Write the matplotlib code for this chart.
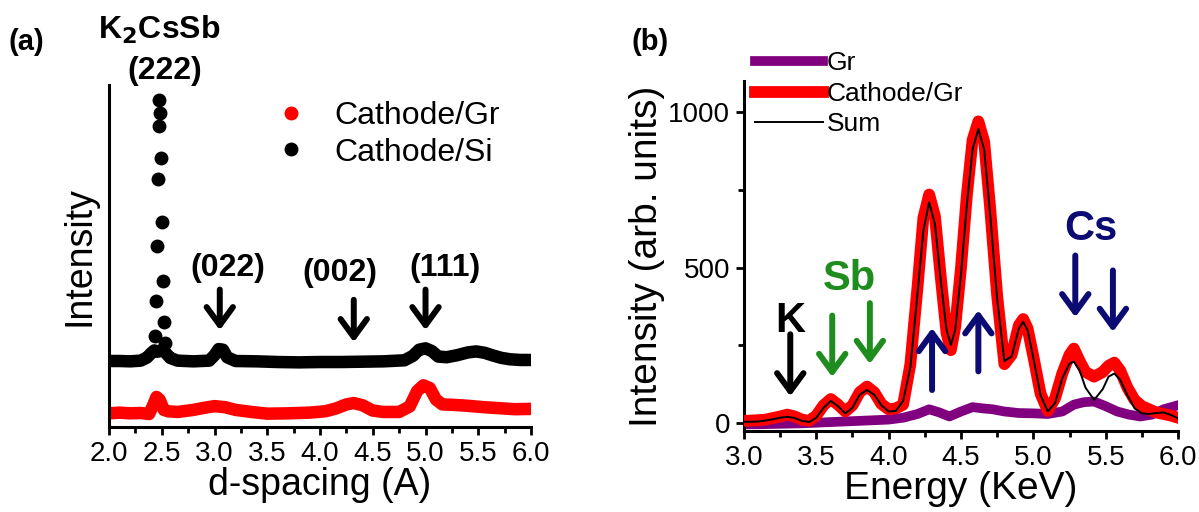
import numpy as np
import matplotlib
matplotlib.use("Agg")
import matplotlib.pyplot as plt
from matplotlib.ticker import MultipleLocator, FormatStrFormatter

plt.rcParams['font.family'] = ['Liberation Sans', 'DejaVu Sans']

# ---- panel (a): XRD, d-spacing vs intensity ----
d_si = [2.00, 2.10, 2.20, 2.30, 2.36, 2.40, 2.43, 2.46, 2.50, 2.54, 2.58, 2.65,
        2.80, 2.95, 3.00, 3.04, 3.08, 3.12, 3.20, 3.40, 3.60, 3.80, 4.00, 4.20,
        4.40, 4.60, 4.80, 4.88, 4.94, 5.00, 5.06, 5.12, 5.20, 5.30, 5.40, 5.48,
        5.56, 5.64, 5.72, 5.80, 5.90, 6.00]
I_si = [19.3, 19.3, 19.2, 19.4, 20.3, 21.6, 22.4, 22.0, 22.5, 21.6, 20.2, 19.4,
        19.2, 19.4, 21.0, 22.8, 22.6, 20.4, 19.3, 19.2, 19.0, 18.9, 19.0, 19.0,
        19.1, 19.2, 19.5, 20.8, 22.6, 23.0, 22.2, 20.6, 20.4, 21.0, 21.8, 22.1,
        21.7, 20.9, 20.2, 19.8, 19.6, 19.6]
# isolated points of the (222) peak
d_si_peak = [2.436, 2.445, 2.455, 2.464, 2.471, 2.477, 2.482, 2.493, 2.502, 2.509, 2.518, 2.531]
I_si_peak = [26.6, 36.8, 53.0, 72.5, 88.1, 95.6, 91.7, 78.6, 60.0, 42.8, 30.8, 24.6]

d_gr = [2.00, 2.10, 2.20, 2.30, 2.38, 2.42, 2.45, 2.48, 2.52, 2.56, 2.65, 2.80,
        2.90, 3.00, 3.10, 3.20, 3.35, 3.50, 3.70, 3.90, 4.05, 4.15, 4.25, 4.32,
        4.40, 4.50, 4.60, 4.75, 4.85, 4.92, 4.98, 5.04, 5.10, 5.16, 5.25, 5.40,
        5.55, 5.70, 5.85, 6.00]
I_gr = [4.0, 4.2, 4.0, 4.1, 3.8, 6.5, 8.8, 8.0, 5.0, 4.6, 4.4, 5.0,
        5.6, 6.1, 5.8, 5.0, 4.4, 3.9, 4.0, 4.2, 4.6, 5.4, 6.6, 7.0,
        6.4, 4.8, 4.4, 4.4, 6.0, 10.5, 12.2, 11.4, 8.0, 6.6, 6.5, 6.2,
        5.8, 5.5, 5.2, 5.3]

peak_labels = ["(022)", "(002)", "(111)"]
peak_pos = [3.05, 4.32, 5.00]

# ---- panel (b): EDS spectrum ----
energy = [3.00, 3.05, 3.10, 3.15, 3.20, 3.25, 3.30, 3.35, 3.40, 3.45, 3.50, 3.55,
          3.60, 3.65, 3.70, 3.75, 3.80, 3.85, 3.90, 3.95, 4.00, 4.05, 4.10, 4.15,
          4.20, 4.24, 4.28, 4.32, 4.36, 4.40, 4.43, 4.46, 4.50, 4.54, 4.58, 4.62,
          4.66, 4.70, 4.75, 4.80, 4.85, 4.90, 4.93, 4.96, 5.00, 5.05, 5.10, 5.15,
          5.20, 5.25, 5.28, 5.32, 5.36, 5.42, 5.48, 5.52, 5.56, 5.60, 5.65, 5.70,
          5.75, 5.80, 5.85, 5.90, 5.95, 6.00]
cathode = [8, 9, 10, 12, 17, 22, 28, 22, 12, 8, 25, 58,
           78, 60, 38, 58, 100, 118, 100, 62, 45, 48, 60, 190,
           440, 660, 735, 665, 470, 290, 235, 310, 500, 730, 910, 970,
           905, 700, 410, 190, 220, 315, 335, 305, 215, 95, 40, 80,
           160, 220, 240, 200, 165, 150, 165, 185, 195, 170, 115, 75,
           55, 45, 35, 30, 25, 18]
fit_sum = [5, 5, 6, 9, 13, 18, 21, 17, 8, 4, 18, 50,
           72, 55, 32, 50, 92, 107, 92, 58, 38, 40, 72, 180,
           420, 620, 710, 640, 460, 300, 252, 300, 480, 700, 880, 945,
           880, 680, 400, 200, 215, 305, 326, 300, 210, 90, 38, 65,
           145, 192, 198, 170, 115, 75, 110, 150, 160, 140, 90, 48,
           32, 30, 33, 35, 27, 16]
energy_gr = [3.00, 3.10, 3.20, 3.30, 3.40, 3.50, 3.60, 3.70, 3.80, 3.90, 4.00, 4.10,
             4.20, 4.28, 4.35, 4.42, 4.50, 4.58, 4.65, 4.72, 4.80, 4.90, 5.00, 5.10,
             5.20, 5.28, 5.35, 5.42, 5.50, 5.58, 5.66, 5.74, 5.82, 5.90, 6.00]
graphene = [-3, -3, -2, -1, 0, 2, 4, 6, 8, 10, 12, 18,
            30, 45, 35, 22, 38, 52, 48, 45, 38, 33, 32, 30,
            38, 60, 68, 70, 55, 38, 28, 22, 28, 45, 58]

navy = '#0b0b73'
green = '#1e8c1e'
arr = dict(arrowstyle='->,head_length=1.3,head_width=0.95', lw=4.3)

fig = plt.figure(figsize=(11.99, 5.12), dpi=100)

# ================= (a) =================
ax = fig.add_axes([0.0909, 0.166, 0.352, 0.668])
ax.plot(d_gr, I_gr, '-', color='red', lw=9, solid_capstyle='butt', zorder=2)
ax.plot(d_si, I_si, '-', color='black', lw=9, solid_capstyle='butt', zorder=2)
ax.plot(d_si_peak, I_si_peak, 'o', color='black', ms=9, clip_on=False, zorder=3)

h_gr, = ax.plot([], [], 'o', color='red', ms=9, label='Cathode/Gr')
h_si, = ax.plot([], [], 'o', color='black', ms=9, label='Cathode/Si')
ax.legend(handles=[h_gr, h_si], loc='upper left', bbox_to_anchor=(0.355, 0.99),
          frameon=False, fontsize=23, handlelength=1.2, handletextpad=0.75,
          labelspacing=0.2, borderaxespad=0)

ax.set_xlim(2.0, 6.0)
ax.set_ylim(0, 100)
ax.spines['top'].set_visible(False)
ax.spines['right'].set_visible(False)
for s in ['left', 'bottom']:
    ax.spines[s].set_linewidth(2.2)
ax.set_yticks([])
ax.xaxis.set_major_locator(MultipleLocator(0.5))
ax.xaxis.set_minor_locator(MultipleLocator(0.25))
ax.xaxis.set_major_formatter(FormatStrFormatter('%.1f'))
ax.tick_params(axis='x', which='major', length=6, width=2, labelsize=20, pad=4)
ax.tick_params(axis='x', which='minor', length=4, width=2)
ax.set_xlabel('d-spacing (A)', fontsize=27, labelpad=0)
ax.set_ylabel('Intensity', fontsize=27, labelpad=8)

ax.text(2.48, 116, 'K$_\\mathbf{2}$CsSb', fontsize=23, fontweight='bold',
        ha='center', va='center', clip_on=False)
ax.text(2.53, 104, '(222)', fontsize=23, fontweight='bold',
        ha='center', va='center', clip_on=False)
label_x = [3.13, 4.19, 5.18]
label_y = [46.5, 45.0, 46.5]
arrow_top = [41, 38, 41]
arrow_tip = [27.5, 24, 27.5]
for lab, x, lx, ly, t0, t1 in zip(peak_labels, peak_pos, label_x, label_y, arrow_top, arrow_tip):
    ax.text(lx, ly, lab, fontsize=23, fontweight='bold', ha='center', va='center')
    ax.annotate('', xy=(x, t1), xytext=(x, t0), arrowprops=dict(arr, color='black'))
fig.text(0.022, 0.918, '(a)', fontsize=21, fontweight='bold', ha='center', va='center')

# ================= (b) =================
bx = fig.add_axes([0.6205, 0.158, 0.362, 0.684])
bx.plot(energy_gr, graphene, '-', color='#800080', lw=7, label='Gr', zorder=2)
bx.plot(energy, cathode, '-', color='red', lw=8.5, label='Cathode/Gr', zorder=3)
bx.plot(energy, fit_sum, '-', color='black', lw=1.4, label='Sum', zorder=4)
bx.legend(loc='upper left', bbox_to_anchor=(0.0, 1.115), frameon=False, fontsize=19,
          handlelength=2.6, handletextpad=0.15, labelspacing=0.25, borderaxespad=0)

bx.set_xlim(3.0, 6.0)
bx.set_ylim(-25, 1100)
bx.spines['top'].set_visible(False)
bx.spines['right'].set_visible(False)
for s in ['left', 'bottom']:
    bx.spines[s].set_linewidth(2.2)
bx.xaxis.set_major_locator(MultipleLocator(0.5))
bx.xaxis.set_minor_locator(MultipleLocator(0.25))
bx.xaxis.set_major_formatter(FormatStrFormatter('%.1f'))
bx.yaxis.set_major_locator(MultipleLocator(500))
bx.yaxis.set_minor_locator(MultipleLocator(250))
bx.tick_params(which='major', length=6, width=2, labelsize=20, pad=4)
bx.tick_params(which='minor', length=4, width=2)
bx.set_xlabel('Energy (KeV)', fontsize=28, labelpad=0)
bx.set_ylabel('Intensity (arb. units)', fontsize=28, labelpad=2)

bx.text(3.32, 330, 'K', fontsize=30, fontweight='bold', color='black', ha='center', va='center')
bx.annotate('', xy=(3.32, 78), xytext=(3.32, 295), arrowprops=dict(arr, color='black'))
bx.text(3.73, 465, 'Sb', fontsize=30, fontweight='bold', color=green, ha='center', va='center')
bx.annotate('', xy=(3.61, 140), xytext=(3.61, 355), arrowprops=dict(arr, color=green))
bx.annotate('', xy=(3.87, 182), xytext=(3.87, 395), arrowprops=dict(arr, color=green))
bx.annotate('', xy=(4.30, 315), xytext=(4.30, 98), arrowprops=dict(arr, color=navy))
bx.annotate('', xy=(4.62, 372), xytext=(4.62, 158), arrowprops=dict(arr, color=navy))
bx.text(5.40, 625, 'Cs', fontsize=30, fontweight='bold', color=navy, ha='center', va='center')
bx.annotate('', xy=(5.29, 332), xytext=(5.29, 548), arrowprops=dict(arr, color=navy))
bx.annotate('', xy=(5.55, 285), xytext=(5.55, 500), arrowprops=dict(arr, color=navy))
fig.text(0.542, 0.918, '(b)', fontsize=21, fontweight='bold', ha='center', va='center')

fig.savefig('out.png', dpi=100)
